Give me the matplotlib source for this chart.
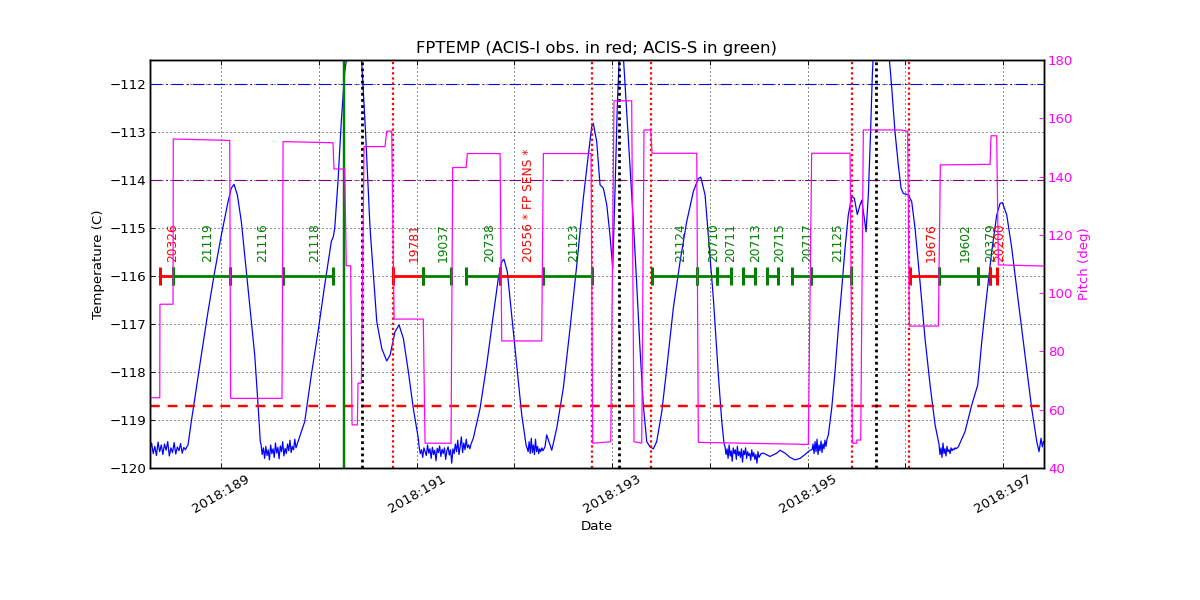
import numpy as np
import matplotlib
matplotlib.use("Agg")
import matplotlib.pyplot as plt

# FPTEMP, smooth parts (day of 2018, deg C)
temp_days = [
    188.659, 188.693, 188.744, 188.795, 188.864, 188.932, 189.000, 189.069, 189.102, 189.130,
    189.164, 189.205, 189.256, 189.307, 189.342, 189.376, 189.399,
    189.785, 189.854, 189.921, 189.990, 190.058, 190.126, 190.146, 190.161, 190.194, 190.228,
    190.263, 190.287, 190.338, 190.433, 190.476, 190.522, 190.591, 190.642, 190.693, 190.727,
    190.778, 190.819, 190.863, 190.914, 190.965, 191.016,
    191.579, 191.648, 191.716, 191.784, 191.835, 191.870, 191.893, 191.927, 191.972, 192.023,
    192.075, 192.119,
    192.330, 192.382, 192.433, 192.500, 192.569, 192.638, 192.705, 192.756, 192.791, 192.807,
    192.842, 192.876, 192.910, 192.945, 192.978, 193.006, 193.030, 193.053, 193.074, 193.094,
    193.114, 193.149, 193.183, 193.217, 193.252, 193.285, 193.319, 193.354, 193.388, 193.422,
    193.456, 193.508, 193.559, 193.626, 193.695, 193.763, 193.831, 193.882, 193.907, 193.951,
    193.984, 194.036, 194.087, 194.122, 194.145,
    194.547, 194.616, 194.685, 194.718, 194.769, 194.821, 194.872, 194.923, 194.974, 195.025,
    195.213, 195.247, 195.281, 195.315, 195.350, 195.384, 195.417, 195.452, 195.479, 195.509,
    195.537, 195.555, 195.581, 195.599, 195.622, 195.643, 195.663, 195.673, 195.752, 195.834,
    195.862, 195.895, 195.929, 195.957, 195.980, 196.031, 196.066, 196.100, 196.151, 196.202,
    196.254, 196.305, 196.339,
    196.543, 196.612, 196.680, 196.742, 196.783, 196.834, 196.885, 196.936, 196.970, 196.994,
    197.039, 197.090, 197.157, 197.226, 197.294, 197.346, 197.369, 197.390, 197.403, 197.415,
]
temp_vals = [
    -119.52, -119.03, -118.34, -117.65, -116.74, -115.91, -115.15, -114.45, -114.17, -114.09,
    -114.31, -114.87, -115.91, -116.95, -117.65, -118.69, -119.45,
    -119.45, -119.03, -118.06, -117.16, -116.19, -115.28, -115.18, -115.00, -114.03, -112.78,
    -111.74, -111.40, -110.60, -111.40, -113.00, -115.00, -116.95, -117.51, -117.77, -117.65,
    -117.16, -117.02, -117.30, -117.99, -118.76, -119.38,
    -119.38, -118.76, -117.85, -116.81, -116.05, -115.70, -115.65, -115.91, -116.81, -117.85,
    -118.90, -119.52,
    -119.31, -119.63, -119.17, -118.34, -117.09, -115.77, -114.38, -113.48, -112.89, -112.82,
    -113.20, -114.10, -114.17, -114.52, -115.15, -115.84, -114.17, -112.44, -111.40, -110.90,
    -111.40, -112.58, -113.69, -114.87, -116.19, -117.51, -118.69, -119.45, -119.56, -119.60,
    -119.45, -118.83, -117.92, -116.67, -115.70, -114.87, -114.24, -113.97, -113.94, -114.31,
    -115.15, -116.47, -118.06, -119.03, -119.49,
    -119.69, -119.76, -119.69, -119.63, -119.69, -119.78, -119.83, -119.80, -119.72, -119.63,
    -119.31, -118.76, -118.00, -117.09, -116.26, -115.42, -114.73, -114.35, -114.38, -114.72,
    -114.52, -114.42, -114.80, -115.08, -114.31, -113.13, -111.81, -111.40, -110.20, -111.40,
    -112.09, -113.00, -113.69, -114.17, -114.28, -114.31, -114.45, -115.00, -116.12, -117.30,
    -118.27, -119.10, -119.45,
    -119.56, -119.24, -118.69, -118.27, -117.37, -116.40, -115.49, -114.73, -114.49, -114.47,
    -114.73, -115.42, -116.53, -117.65, -118.76, -119.45, -119.66, -119.38, -119.56, -119.45,
]

# noisy stretches on the cold floor: (first day, last day) and the samples
noise_spans = [(188.270, 188.649), (189.406, 189.764), (191.024, 191.556), (192.129, 192.313),
               (194.155, 194.524), (195.046, 195.199), (196.345, 196.520)]
noise_a = [-119.62, -119.48, -119.70, -119.55, -119.74, -119.46, -119.66, -119.52, -119.72, -119.50,
           -119.63, -119.45, -119.75, -119.58, -119.68, -119.47, -119.71, -119.56, -119.64, -119.49,
           -119.69, -119.57, -119.62, -119.55]
noise_b = [-119.50, -119.72, -119.58, -119.80, -119.55, -119.74, -119.62, -119.83, -119.52, -119.70,
           -119.60, -119.78, -119.48, -119.69, -119.57, -119.81, -119.54, -119.66, -119.45, -119.75,
           -119.59, -119.70, -119.50, -119.64, -119.42, -119.68, -119.55, -119.62, -119.40, -119.58]
noise_c = [-119.55, -119.70, -119.62, -119.78, -119.58, -119.66, -119.74, -119.52, -119.69, -119.60,
           -119.80, -119.57, -119.72, -119.63, -119.85, -119.59, -119.68, -119.54, -119.76, -119.61,
           -119.70, -119.58, -119.82, -119.64, -119.56, -119.73, -119.62, -119.90, -119.60, -119.70,
           -119.50, -119.66, -119.42, -119.72, -119.55, -119.35, -119.68, -119.48, -119.62, -119.40,
           -119.58, -119.52, -119.60, -119.50]
noise_d = [-119.58, -119.66, -119.45, -119.70, -119.38, -119.68, -119.52, -119.72, -119.40, -119.66,
           -119.55, -119.70, -119.60, -119.66, -119.58, -119.64, -119.60, -119.56]
noise_e = [-119.55, -119.72, -119.60, -119.80, -119.52, -119.75, -119.64, -119.86, -119.58, -119.70,
           -119.62, -119.82, -119.55, -119.74, -119.66, -119.78, -119.60, -119.88, -119.64, -119.72,
           -119.58, -119.80, -119.66, -119.74, -119.70, -119.84, -119.62, -119.76, -119.68, -119.82,
           -119.72, -119.90, -119.66, -119.78, -119.74, -119.70]
noise_f = [-119.62, -119.50, -119.70, -119.45, -119.66, -119.40, -119.72, -119.52, -119.64, -119.44,
           -119.68, -119.50, -119.60, -119.42, -119.55, -119.40]
noise_g = [-119.50, -119.72, -119.58, -119.78, -119.48, -119.70, -119.60, -119.75, -119.55, -119.66,
           -119.62, -119.70, -119.58, -119.64, -119.60, -119.62, -119.58, -119.60]
noise_vals = [noise_a, noise_b, noise_c, noise_d, noise_e, noise_f, noise_g]

# pitch (deg)
pitch_days = [188.270, 188.370, 188.372, 188.506, 188.508, 189.086, 189.095, 189.621, 189.632, 190.143,
              190.153, 190.263, 190.279, 190.324, 190.338, 190.392, 190.399, 190.433, 190.461, 190.675,
              190.693, 190.744, 190.768, 191.067, 191.085, 191.351, 191.368, 191.505, 191.518, 191.853,
              191.870, 192.279, 192.296, 192.784, 192.801, 192.986, 193.019, 193.200, 193.224, 193.303,
              193.326, 193.395, 193.408, 193.866, 193.882, 195.008, 195.042, 195.435, 195.459, 195.503,
              195.505, 195.544, 195.571, 195.947, 196.025, 196.042, 196.339, 196.359, 196.868, 196.878,
              196.936, 196.953, 197.420]
pitch_vals = [64.1, 64.1, 96.2, 96.2, 152.9, 152.4, 63.9, 63.9, 152.0, 151.6,
              142.6, 142.6, 109.4, 109.4, 54.8, 54.8, 69.1, 69.1, 150.3, 150.3,
              155.6, 155.6, 91.1, 91.1, 48.5, 48.5, 143.1, 143.1, 147.9, 147.9,
              83.6, 83.6, 147.9, 147.9, 48.5, 49.0, 166.0, 166.0, 49.0, 48.5,
              156.0, 156.0, 148.0, 148.0, 48.8, 48.1, 148.0, 148.0, 48.5, 48.5,
              49.6, 49.6, 156.0, 156.0, 155.6, 88.7, 88.7, 144.0, 144.2, 154.0,
              154.0, 109.7, 109.3]

# observations (r = ACIS-I, g = ACIS-S)
obs_ids = ['20326', '21119', '21116', '21118', '19781', '19037', '20738', '20556 * FP SENS *',
           '21123', '21124', '20710', '20711', '20713', '20715', '20717', '21125',
           '19676', '19602', '20379', '20200']
obs_start = [188.372, 188.506, 189.089, 189.632, 190.757, 191.064, 191.505, 191.853,
             192.293, 193.408, 193.869, 194.077, 194.343, 194.588, 194.838, 195.032,
             196.049, 196.346, 196.745, 196.868]
obs_stop = [188.506, 189.089, 189.632, 190.143, 191.064, 191.351, 191.853, 192.293,
            192.791, 193.869, 194.077, 194.214, 194.466, 194.701, 195.032, 195.445,
            196.346, 196.745, 196.868, 196.940]
obs_colors = ['r', 'g', 'g', 'g', 'r', 'g', 'g', 'r',
              'g', 'g', 'g', 'g', 'g', 'g', 'g', 'g',
              'r', 'g', 'g', 'r']

red_marks = [190.760, 192.797, 193.398, 195.452, 196.042]
black_marks = [190.440, 193.074, 195.701]
green_mark = 190.256
fp_limit = -118.7

plt.rcParams.update({
    'font.family': 'DejaVu Sans',
    'font.size': 12,
    'xtick.direction': 'in',
    'ytick.direction': 'in',
    'xtick.top': True,
    'xtick.major.size': 4.5,
    'ytick.major.size': 4.5,
    'axes.linewidth': 1.3,
})

# stitch smooth parts and noisy stretches together
t_all = list(temp_days)
v_all = list(temp_vals)
for (t0, t1), vals in zip(noise_spans, noise_vals):
    t_all += list(np.linspace(t0, t1, len(vals)))
    v_all += vals
order = np.argsort(t_all)
t_all = np.array(t_all)[order]
v_all = np.array(v_all)[order]

fig = plt.figure(figsize=(15, 7.5), dpi=80)
fig.subplots_adjust(left=0.125, right=0.87, bottom=0.22, top=0.9)
ax = fig.add_subplot(111)

ax.plot(t_all, v_all, color='b', lw=1.1)

ax.axhline(-112, color='b', lw=1, ls=(0, (10.5, 3.5, 1.5, 3.5)))
ax.axhline(-114, color='purple', lw=1, ls=(0, (10.5, 3.5, 1.5, 3.5)))
ax.axhline(fp_limit, color='r', lw=2.2, ls=(0, (4, 3.2)))

ax.axvline(green_mark, color='g', lw=2.2)
for d in black_marks:
    ax.axvline(d, color='k', lw=2.5, ls=(0, (1, 1.2)))
for d in red_marks:
    ax.axvline(d, color='r', lw=2, ls=(0, (1, 1.3)))

for name, t0, t1, c in zip(obs_ids, obs_start, obs_stop, obs_colors):
    ax.plot([t0, t1], [-116, -116], color=c, lw=2.5)
    ax.plot([t0, t1], [-116, -116], '|', color=c, ms=17, mew=2.7)
    ax.text((t0 + t1) / 2, -115.7, name, rotation=90, color=c, fontsize=11,
            ha='left', va='bottom')

ax.set_xlim(188.270, 197.420)
ax.set_ylim(-120, -111.5)
ax.set_yticks(np.arange(-120, -111, 1))
days = np.arange(189, 198)
ax.set_xticks(days)
ax.set_xticklabels(['2018:%d' % d if d % 2 else '' for d in days], rotation=30, ha='center')
ax.grid(True, color='k', lw=0.8, ls=(0, (1.1, 3.4)))
ax.set_xlabel('Date')
ax.set_ylabel('Temperature (C)')
ax.set_title('FPTEMP (ACIS-I obs. in red; ACIS-S in green)', fontsize=14.8)

ax2 = ax.twinx()
ax2.plot(pitch_days, pitch_vals, color='#ff00ff', lw=1.1)
ax2.set_ylim(40, 180)
ax2.set_yticks(np.arange(40, 181, 20))
ax2.tick_params(axis='y', colors='#ff00ff', direction='in')
ax2.spines['right'].set_color('k')
ax2.set_ylabel('Pitch (deg)', color='#ff00ff')
ax2.set_xlim(188.270, 197.420)

fig.savefig('out.png', dpi=80)
